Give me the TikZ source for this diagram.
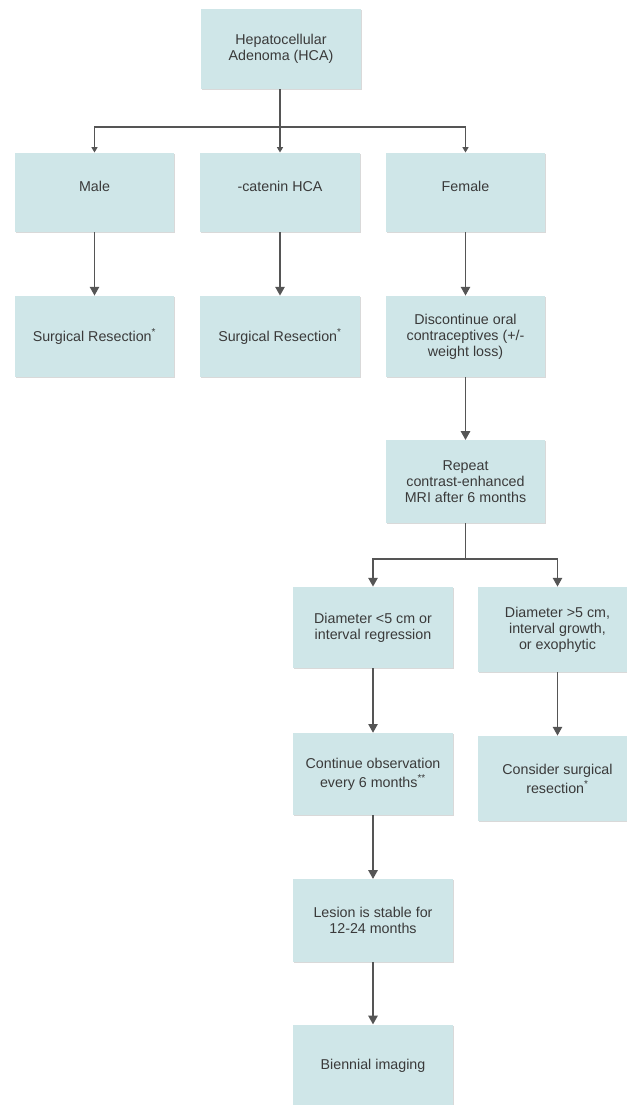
\documentclass[tikz,border=0pt]{standalone}
\usepackage{fontspec}
\setmainfont{Liberation Sans}
\usetikzlibrary{arrows.meta,shadows}
\definecolor{boxfill}{HTML}{CFE6E8}
\definecolor{linecol}{HTML}{555555}
\definecolor{txtcol}{HTML}{3A3A3A}
\tikzset{
  box/.style={draw=none, fill=boxfill, inner sep=0pt, align=center, text=txtcol,
    font=\fontsize{10.7}{12}\selectfont,
    drop shadow={shadow xshift=0.7pt, shadow yshift=-0.9pt, opacity=0.25, fill=black!60}},
  lbl/.style={inner sep=0pt, align=center, text=txtcol, font=\fontsize{10.7}{12}\selectfont},
  conn/.style={draw=linecol, line width=1pt},
  bigarrow/.style={conn, -{Triangle[length=6.5pt,width=7pt]}},
  smallarrow/.style={conn, -{Triangle[length=4pt,width=4.4pt]}},
}
\begin{document}
\begin{tikzpicture}[x=0.75pt,y=-0.75pt]
\useasboundingbox (0,0) rectangle (627,1105);
\clip (0,0) rectangle (627,1105);
% boxes (centres in px, sizes in pt)
\node[box, minimum width=120pt, minimum height=60pt] (top) at (281,49) {Hepatocellular\\Adenoma (HCA)};
\node[box, minimum width=119.5pt, minimum height=59.5pt] (male) at (94.5,192.5) {};
\node[box, minimum width=119.5pt, minimum height=59.5pt] (cat) at (280,192.5) {};
\node[box, minimum width=119.5pt, minimum height=59.5pt] (fem) at (465.5,192.5) {};
\node[lbl] (maleT) at (94.5,186) {Male};
\node[lbl] (catT) at (280,186) {-catenin HCA};
\node[lbl] (femT) at (465.5,186) {Female};
\node[box, minimum width=119.5pt, minimum height=61pt] (sr1) at (94.5,336.5) {Surgical Resection\textsuperscript{*}};
\node[box, minimum width=119.5pt, minimum height=61pt] (sr2) at (280,336.5) {Surgical Resection\textsuperscript{*}};
\node[box, minimum width=119.5pt, minimum height=61pt] (disc) at (465.5,336.5) {Discontinue oral\\contraceptives (+/-\\weight loss)};
\node[box, minimum width=119.5pt, minimum height=62pt] (rep) at (465.5,481.5) {Repeat\\contrast-enhanced\\MRI after 6 months};
\node[box, minimum width=120pt, minimum height=61pt] (dl) at (373,627.5) {Diameter <5 cm or\\interval regression};
\node[box, minimum width=119pt, minimum height=64pt] (dr) at (557.5,629.5) {Diameter >5 cm,\\interval growth,\\or exophytic};
\node[box, minimum width=120pt, minimum height=61.5pt] (cont) at (373,774) {Continue observation\\[2.2pt]every 6 months\textsuperscript{**}};
\node[box, minimum width=119pt, minimum height=64pt] (cons) at (557.5,778.5) {Consider surgical\\[2.2pt]resection\textsuperscript{*}};
\node[box, minimum width=120pt, minimum height=62pt] (les) at (373,920.5) {Lesion is stable for\\12-24 months};
\node[box, minimum width=120pt, minimum height=62pt] (bien) at (373,1066) {Biennial imaging};
% connectors
\coordinate (j1) at (280,127);
\draw[conn] (top.south -| j1) -- (j1);
\draw[smallarrow] (j1) -| (male.north);
\draw[smallarrow] (j1) -- (cat.north);
\draw[smallarrow] (j1) -| (fem.north);
\draw[bigarrow] (male) -- (sr1);
\draw[bigarrow] (cat) -- (sr2);
\draw[bigarrow] (fem) -- (disc);
\draw[bigarrow] (disc) -- (rep);
\coordinate (j2) at (465.5,559);
\draw[conn] (rep) -- (j2);
\draw[bigarrow] (j2) -| (dl.north);
\draw[bigarrow] (j2) -| (dr.north);
\draw[bigarrow] (dl) -- (cont);
\draw[bigarrow] (dr) -- (cons);
\draw[bigarrow] (cont) -- (les);
\draw[bigarrow] (les) -- (bien);
\end{tikzpicture}
\end{document}
